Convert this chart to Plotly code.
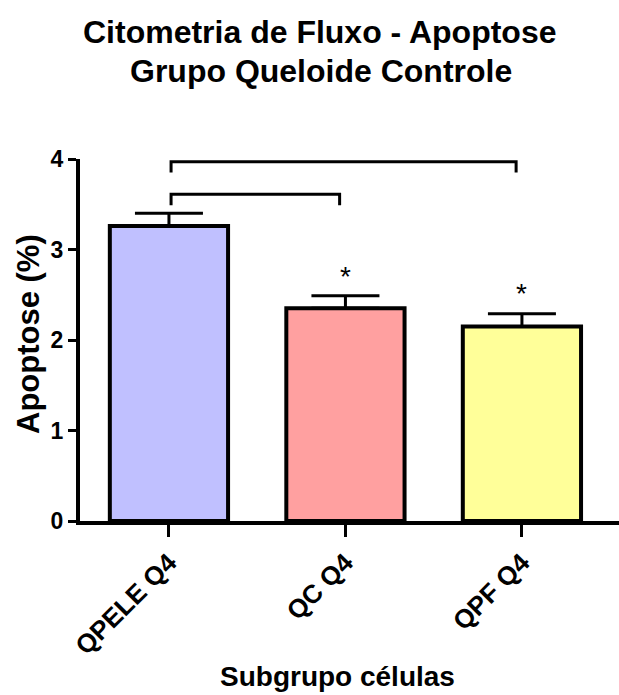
import plotly.graph_objects as go

# Apoptosis (%) by cell subgroup, mean with upper SEM
categories = ["QPELE Q4", "QC Q4", "QPF Q4"]
apoptose_mean = [3.26, 2.35, 2.15]
apoptose_sem = [0.14, 0.14, 0.14]
bar_colors = ["#C0C0FF", "#FFA0A0", "#FFFF99"]

# Significance brackets: (from category index, to category index, height)
brackets = [(0, 1, 3.61), (0, 2, 3.97)]
bracket_leg = 0.12
# Asterisks above the bars that differ from the first group
star_positions = [(1, 2.70), (2, 2.51)]

FONT = "Liberation Sans, Arial, sans-serif"

fig = go.Figure()
fig.add_trace(go.Bar(
    x=list(range(len(categories))),
    y=apoptose_mean,
    width=0.67,
    marker=dict(color=bar_colors, line=dict(color="black", width=4)),
    error_y=dict(type="data", array=apoptose_sem, arrayminus=[0] * len(apoptose_sem),
                 symmetric=False, color="black", thickness=3, width=34),
    showlegend=False,
))

shapes = []
for i0, i1, h in brackets:
    xa, xb = i0 + 0.012, i1 - 0.033
    shapes.append(dict(
        type="path", xref="x", yref="y",
        path=f"M {xa} {h - bracket_leg} L {xa} {h} L {xb} {h} L {xb} {h - bracket_leg}",
        line=dict(color="black", width=3),
    ))

annotations = []
for xi, yv in star_positions:
    annotations.append(dict(x=xi, y=yv, xref="x", yref="y", text="*", showarrow=False,
                            xanchor="center", yanchor="middle",
                            font=dict(family=FONT, size=28, color="black")))

annotations += [
    dict(text="Citometria de Fluxo - Apoptose", x=(320 - 80) / 539, y=(521 - 32) / 362,
         xref="paper", yref="paper", showarrow=False, xanchor="center", yanchor="middle",
         font=dict(family=FONT, size=32, color="black", weight="bold")),
    dict(text="Grupo Queloide Controle", x=(321 - 80) / 539, y=(521 - 71) / 362,
         xref="paper", yref="paper", showarrow=False, xanchor="center", yanchor="middle",
         font=dict(family=FONT, size=32, color="black", weight="bold")),
    dict(text="Apoptose (%)", x=(28 - 80) / 539, y=(521 - 334) / 362, textangle=-90,
         xref="paper", yref="paper", showarrow=False, xanchor="center", yanchor="middle",
         font=dict(family=FONT, size=31, color="black", weight="bold")),
    dict(text="Subgrupo células", x=(337 - 80) / 539, y=(521 - 676) / 362,
         xref="paper", yref="paper", showarrow=False, xanchor="center", yanchor="middle",
         font=dict(family=FONT, size=28, color="black", weight="bold")),
]

fig.update_layout(
    width=619, height=695,
    margin=dict(l=80, r=0, t=159, b=174),
    paper_bgcolor="white", plot_bgcolor="white",
    shapes=shapes, annotations=annotations,
    bargap=0.33,
)
fig.update_xaxes(
    range=[-0.504, 2.55],
    tickvals=list(range(len(categories))), ticktext=categories, tickangle=-45,
    tickfont=dict(family=FONT, size=26, color="black", weight="bold"),
    ticks="outside", ticklen=12, tickwidth=3, tickcolor="black",
    showline=True, linecolor="black", linewidth=4, showgrid=False, zeroline=False,
)
fig.update_yaxes(
    range=[0, 4], tickvals=[0, 1, 2, 3, 4],
    tickfont=dict(family=FONT, size=23, color="black", weight="bold"),
    ticks="outside", ticklen=8, tickwidth=3, tickcolor="black",
    showline=True, linecolor="black", linewidth=4, showgrid=False, zeroline=False,
)

fig.write_html("out.html")
